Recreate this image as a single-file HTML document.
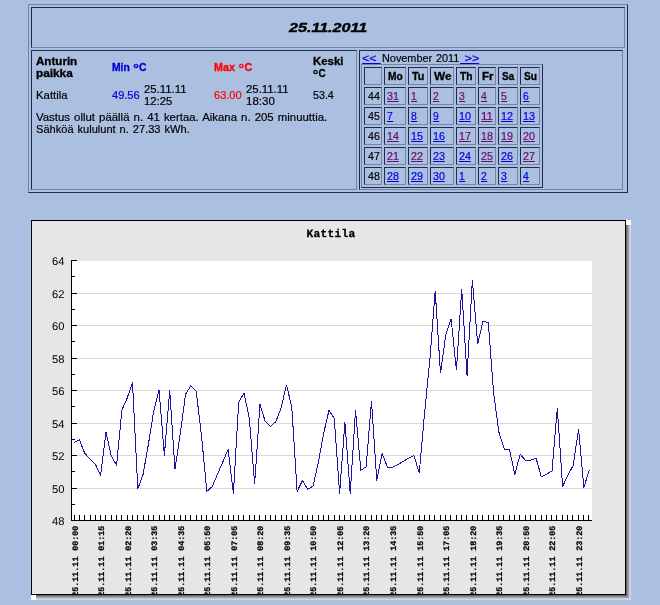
<!DOCTYPE html>
<html><head><meta charset="utf-8"><title>25.11.2011</title>
<style>
html,body{margin:0;padding:0;}
body{width:660px;height:605px;background:#abbfe0;position:relative;overflow:hidden;font-family:"Liberation Sans",sans-serif;font-size:10px;word-spacing:0.8px;color:#000;}
.b{position:absolute;border:1px solid;}
.t{position:absolute;will-change:transform;-webkit-text-stroke:0.18px;white-space:pre;line-height:12px;height:12px;transform-origin:0 0;display:block;}
.bd{font-weight:bold;-webkit-text-stroke:0.3px;}
.bl{color:#0000d8;}
.rd{color:#ff0000;}
.v{color:#6a0a6e;border-bottom:1px solid #6a0a6e;height:10px !important;}
.u{color:#0000e0;border-bottom:1px solid #0000e0;height:10px !important;}
.o{font-style:normal;font-size:8px;vertical-align:3.2px;line-height:1px;margin-right:0.5px;}
.h{-webkit-text-stroke:0.35px;font-weight:bold;font-style:italic;font-size:12.5px;line-height:15px;height:15px;}
svg{position:absolute;left:31px;top:220px;will-change:transform;}
.yl{font-family:"Liberation Sans",sans-serif;font-size:11.2px;fill:#000;}
.xl{font-family:"Liberation Mono",monospace;font-weight:bold;font-size:8.4px;fill:#000;stroke:#000;stroke-width:0.25px;}
.ct{font-family:"Liberation Mono",monospace;font-weight:bold;font-size:11.2px;letter-spacing:0.28px;fill:#000;stroke:#000;stroke-width:0.3px;}
</style></head><body>

<div class="b" style="left:28px;top:4px;width:598px;height:187px;border-color:#76849f #1c2b4e #1c2b4e #76849f;"></div>
<div class="b" style="left:31px;top:7px;width:592px;height:39px;border-color:#1c2b4e #76849f #76849f #1c2b4e;"></div>
<div class="b" style="left:31px;top:50px;width:324px;height:138px;border-color:#1c2b4e #76849f #76849f #1c2b4e;"></div>
<div class="b" style="left:359px;top:50px;width:262px;height:138px;border-color:#1c2b4e #76849f #76849f #1c2b4e;"></div>
<div class="b" style="left:361px;top:64px;width:180px;height:122px;border-color:#76849f #1c2b4e #1c2b4e #76849f;"></div>
<div class="b" style="left:364px;top:67px;width:16px;height:16px;border-color:#1c2b4e #76849f #76849f #1c2b4e;"></div>
<div class="b" style="left:384px;top:67px;width:20px;height:16px;border-color:#1c2b4e #76849f #76849f #1c2b4e;"></div>
<div class="b" style="left:408px;top:67px;width:18px;height:16px;border-color:#1c2b4e #76849f #76849f #1c2b4e;"></div>
<div class="b" style="left:430px;top:67px;width:22px;height:16px;border-color:#1c2b4e #76849f #76849f #1c2b4e;"></div>
<div class="b" style="left:456px;top:67px;width:18px;height:16px;border-color:#1c2b4e #76849f #76849f #1c2b4e;"></div>
<div class="b" style="left:478px;top:67px;width:16px;height:16px;border-color:#1c2b4e #76849f #76849f #1c2b4e;"></div>
<div class="b" style="left:498px;top:67px;width:18px;height:16px;border-color:#1c2b4e #76849f #76849f #1c2b4e;"></div>
<div class="b" style="left:520px;top:67px;width:18px;height:16px;border-color:#1c2b4e #76849f #76849f #1c2b4e;"></div>
<div class="b" style="left:364px;top:87px;width:16px;height:16px;border-color:#1c2b4e #76849f #76849f #1c2b4e;"></div>
<div class="b" style="left:384px;top:87px;width:20px;height:16px;border-color:#1c2b4e #76849f #76849f #1c2b4e;"></div>
<div class="b" style="left:408px;top:87px;width:18px;height:16px;border-color:#1c2b4e #76849f #76849f #1c2b4e;"></div>
<div class="b" style="left:430px;top:87px;width:22px;height:16px;border-color:#1c2b4e #76849f #76849f #1c2b4e;"></div>
<div class="b" style="left:456px;top:87px;width:18px;height:16px;border-color:#1c2b4e #76849f #76849f #1c2b4e;"></div>
<div class="b" style="left:478px;top:87px;width:16px;height:16px;border-color:#1c2b4e #76849f #76849f #1c2b4e;"></div>
<div class="b" style="left:498px;top:87px;width:18px;height:16px;border-color:#1c2b4e #76849f #76849f #1c2b4e;"></div>
<div class="b" style="left:520px;top:87px;width:18px;height:16px;border-color:#1c2b4e #76849f #76849f #1c2b4e;"></div>
<div class="b" style="left:364px;top:107px;width:16px;height:16px;border-color:#1c2b4e #76849f #76849f #1c2b4e;"></div>
<div class="b" style="left:384px;top:107px;width:20px;height:16px;border-color:#1c2b4e #76849f #76849f #1c2b4e;"></div>
<div class="b" style="left:408px;top:107px;width:18px;height:16px;border-color:#1c2b4e #76849f #76849f #1c2b4e;"></div>
<div class="b" style="left:430px;top:107px;width:22px;height:16px;border-color:#1c2b4e #76849f #76849f #1c2b4e;"></div>
<div class="b" style="left:456px;top:107px;width:18px;height:16px;border-color:#1c2b4e #76849f #76849f #1c2b4e;"></div>
<div class="b" style="left:478px;top:107px;width:16px;height:16px;border-color:#1c2b4e #76849f #76849f #1c2b4e;"></div>
<div class="b" style="left:498px;top:107px;width:18px;height:16px;border-color:#1c2b4e #76849f #76849f #1c2b4e;"></div>
<div class="b" style="left:520px;top:107px;width:18px;height:16px;border-color:#1c2b4e #76849f #76849f #1c2b4e;"></div>
<div class="b" style="left:364px;top:127px;width:16px;height:16px;border-color:#1c2b4e #76849f #76849f #1c2b4e;"></div>
<div class="b" style="left:384px;top:127px;width:20px;height:16px;border-color:#1c2b4e #76849f #76849f #1c2b4e;"></div>
<div class="b" style="left:408px;top:127px;width:18px;height:16px;border-color:#1c2b4e #76849f #76849f #1c2b4e;"></div>
<div class="b" style="left:430px;top:127px;width:22px;height:16px;border-color:#1c2b4e #76849f #76849f #1c2b4e;"></div>
<div class="b" style="left:456px;top:127px;width:18px;height:16px;border-color:#1c2b4e #76849f #76849f #1c2b4e;"></div>
<div class="b" style="left:478px;top:127px;width:16px;height:16px;border-color:#1c2b4e #76849f #76849f #1c2b4e;"></div>
<div class="b" style="left:498px;top:127px;width:18px;height:16px;border-color:#1c2b4e #76849f #76849f #1c2b4e;"></div>
<div class="b" style="left:520px;top:127px;width:18px;height:16px;border-color:#1c2b4e #76849f #76849f #1c2b4e;"></div>
<div class="b" style="left:364px;top:147px;width:16px;height:16px;border-color:#1c2b4e #76849f #76849f #1c2b4e;"></div>
<div class="b" style="left:384px;top:147px;width:20px;height:16px;border-color:#1c2b4e #76849f #76849f #1c2b4e;"></div>
<div class="b" style="left:408px;top:147px;width:18px;height:16px;border-color:#1c2b4e #76849f #76849f #1c2b4e;"></div>
<div class="b" style="left:430px;top:147px;width:22px;height:16px;border-color:#1c2b4e #76849f #76849f #1c2b4e;"></div>
<div class="b" style="left:456px;top:147px;width:18px;height:16px;border-color:#1c2b4e #76849f #76849f #1c2b4e;"></div>
<div class="b" style="left:478px;top:147px;width:16px;height:16px;border-color:#1c2b4e #76849f #76849f #1c2b4e;"></div>
<div class="b" style="left:498px;top:147px;width:18px;height:16px;border-color:#1c2b4e #76849f #76849f #1c2b4e;"></div>
<div class="b" style="left:520px;top:147px;width:18px;height:16px;border-color:#1c2b4e #76849f #76849f #1c2b4e;"></div>
<div class="b" style="left:364px;top:167px;width:16px;height:16px;border-color:#1c2b4e #76849f #76849f #1c2b4e;"></div>
<div class="b" style="left:384px;top:167px;width:20px;height:16px;border-color:#1c2b4e #76849f #76849f #1c2b4e;"></div>
<div class="b" style="left:408px;top:167px;width:18px;height:16px;border-color:#1c2b4e #76849f #76849f #1c2b4e;"></div>
<div class="b" style="left:430px;top:167px;width:22px;height:16px;border-color:#1c2b4e #76849f #76849f #1c2b4e;"></div>
<div class="b" style="left:456px;top:167px;width:18px;height:16px;border-color:#1c2b4e #76849f #76849f #1c2b4e;"></div>
<div class="b" style="left:478px;top:167px;width:16px;height:16px;border-color:#1c2b4e #76849f #76849f #1c2b4e;"></div>
<div class="b" style="left:498px;top:167px;width:18px;height:16px;border-color:#1c2b4e #76849f #76849f #1c2b4e;"></div>
<div class="b" style="left:520px;top:167px;width:18px;height:16px;border-color:#1c2b4e #76849f #76849f #1c2b4e;"></div>
<span id="t0" class="t h" style="left:288.8px;top:21px;transform:scaleX(1.2879)">25.11.2011</span>
<span id="t1" class="t bd" style="left:36.3px;top:56px;transform:scaleX(1.1590)">Anturin</span>
<span id="t2" class="t bd" style="left:36.3px;top:68px;transform:scaleX(1.1785)">paikka</span>
<span id="t3" class="t bd bl" style="left:111.7px;top:62px;transform:scaleX(1.0353)">Min <i class=o>o</i>C</span>
<span id="t4" class="t bd rd" style="left:213.7px;top:62px;transform:scaleX(1.0737)">Max <i class=o>o</i>C</span>
<span id="t5" class="t bd" style="left:312.5px;top:56px;transform:scaleX(1.1429)">Keski</span>
<span id="t6" class="t bd" style="left:312.5px;top:68px;transform:scaleX(0.9901)"><i class=o>o</i>C</span>
<span id="t7" class="t " style="left:36.3px;top:90px;transform:scaleX(1.1404)">Kattila</span>
<span id="t8" class="t bl" style="left:111.7px;top:90px;transform:scaleX(1.1026)">49.56</span>
<span id="t9" class="t " style="left:143.7px;top:84px;transform:scaleX(1.1374)">25.11.11</span>
<span id="t10" class="t " style="left:143.7px;top:96px;transform:scaleX(1.1306)">12:25</span>
<span id="t11" class="t rd" style="left:213.7px;top:90px;transform:scaleX(1.1026)">63.00</span>
<span id="t12" class="t " style="left:245.7px;top:84px;transform:scaleX(1.1374)">25.11.11</span>
<span id="t13" class="t " style="left:245.7px;top:96px;transform:scaleX(1.1506)">18:30</span>
<span id="t14" class="t " style="left:312.5px;top:90px;transform:scaleX(1.0684)">53.4</span>
<span id="t15" class="t " style="left:36.3px;top:112px;transform:scaleX(1.1397)">Vastus ollut päällä n. 41 kertaa. Aikana n. 205 minuuttia.</span>
<span id="t16" class="t " style="left:36.3px;top:124px;transform:scaleX(1.1070)">Sähköä kululunt n. 27.33 kWh.</span>
<span id="t17" class="t u" style="left:362.0px;top:53px;transform:scaleX(1.2446)">&lt;&lt; </span>
<span id="t18" class="t " style="left:382.0px;top:53px;transform:scaleX(1.0868)">November 2011</span>
<span id="t19" class="t u" style="left:460.0px;top:53px;transform:scaleX(1.2774)"> &gt;&gt;</span>
<span id="t20" class="t bd" style="left:387.6px;top:71px;transform:scaleX(1.0171)">Mo</span>
<span id="t21" class="t bd" style="left:411.6px;top:71px;transform:scaleX(1.0710)">Tu</span>
<span id="t22" class="t bd" style="left:433.6px;top:71px;transform:scaleX(1.1802)">We</span>
<span id="t23" class="t bd" style="left:459.6px;top:71px;transform:scaleX(1.0230)">Th</span>
<span id="t24" class="t bd" style="left:481.6px;top:71px;transform:scaleX(1.1500)">Fr</span>
<span id="t25" class="t bd" style="left:501.6px;top:71px;transform:scaleX(0.9890)">Sa</span>
<span id="t26" class="t bd" style="left:523.6px;top:71px;transform:scaleX(1.0171)">Su</span>
<span id="t27" class="t " style="left:367.6px;top:91px;transform:scaleX(1.0607)">44</span>
<span id="t28" class="t v" style="left:387.2px;top:91px;transform:scaleX(1.0787)">31</span>
<span id="t29" class="t v" style="left:411.2px;top:91px;transform:scaleX(1.0427)">1</span>
<span id="t30" class="t v" style="left:433.2px;top:91px;transform:scaleX(1.0427)">2</span>
<span id="t31" class="t v" style="left:459.2px;top:91px;transform:scaleX(1.0427)">3</span>
<span id="t32" class="t v" style="left:481.2px;top:91px;transform:scaleX(1.0427)">4</span>
<span id="t33" class="t v" style="left:501.2px;top:91px;transform:scaleX(1.0427)">5</span>
<span id="t34" class="t u" style="left:523.2px;top:91px;transform:scaleX(1.0427)">6</span>
<span id="t35" class="t " style="left:367.6px;top:111px;transform:scaleX(1.0607)">45</span>
<span id="t36" class="t u" style="left:387.2px;top:111px;transform:scaleX(1.0427)">7</span>
<span id="t37" class="t u" style="left:411.2px;top:111px;transform:scaleX(1.0427)">8</span>
<span id="t38" class="t u" style="left:433.2px;top:111px;transform:scaleX(1.0427)">9</span>
<span id="t39" class="t u" style="left:459.2px;top:111px;transform:scaleX(1.0787)">10</span>
<span id="t40" class="t v" style="left:481.2px;top:111px;transform:scaleX(1.1549)">11</span>
<span id="t41" class="t u" style="left:501.2px;top:111px;transform:scaleX(1.0787)">12</span>
<span id="t42" class="t u" style="left:523.2px;top:111px;transform:scaleX(1.0787)">13</span>
<span id="t43" class="t " style="left:367.6px;top:131px;transform:scaleX(1.0607)">46</span>
<span id="t44" class="t v" style="left:387.2px;top:131px;transform:scaleX(1.0787)">14</span>
<span id="t45" class="t u" style="left:411.2px;top:131px;transform:scaleX(1.0787)">15</span>
<span id="t46" class="t u" style="left:433.2px;top:131px;transform:scaleX(1.0787)">16</span>
<span id="t47" class="t v" style="left:459.2px;top:131px;transform:scaleX(1.0787)">17</span>
<span id="t48" class="t v" style="left:481.2px;top:131px;transform:scaleX(1.0787)">18</span>
<span id="t49" class="t v" style="left:501.2px;top:131px;transform:scaleX(1.0787)">19</span>
<span id="t50" class="t v" style="left:523.2px;top:131px;transform:scaleX(1.0787)">20</span>
<span id="t51" class="t " style="left:367.6px;top:151px;transform:scaleX(1.0607)">47</span>
<span id="t52" class="t v" style="left:387.2px;top:151px;transform:scaleX(1.0787)">21</span>
<span id="t53" class="t v" style="left:411.2px;top:151px;transform:scaleX(1.0787)">22</span>
<span id="t54" class="t u" style="left:433.2px;top:151px;transform:scaleX(1.0787)">23</span>
<span id="t55" class="t u" style="left:459.2px;top:151px;transform:scaleX(1.0787)">24</span>
<span id="t56" class="t v" style="left:481.2px;top:151px;transform:scaleX(1.0787)">25</span>
<span id="t57" class="t u" style="left:501.2px;top:151px;transform:scaleX(1.0787)">26</span>
<span id="t58" class="t v" style="left:523.2px;top:151px;transform:scaleX(1.0787)">27</span>
<span id="t59" class="t " style="left:367.6px;top:171px;transform:scaleX(1.0607)">48</span>
<span id="t60" class="t u" style="left:387.2px;top:171px;transform:scaleX(1.0787)">28</span>
<span id="t61" class="t u" style="left:411.2px;top:171px;transform:scaleX(1.0787)">29</span>
<span id="t62" class="t u" style="left:433.2px;top:171px;transform:scaleX(1.0787)">30</span>
<span id="t63" class="t u" style="left:459.2px;top:171px;transform:scaleX(1.0427)">1</span>
<span id="t64" class="t u" style="left:481.2px;top:171px;transform:scaleX(1.0427)">2</span>
<span id="t65" class="t u" style="left:501.2px;top:171px;transform:scaleX(1.0427)">3</span>
<span id="t66" class="t u" style="left:523.2px;top:171px;transform:scaleX(1.0427)">4</span>
<svg width="600" height="380" viewBox="0 0 600 380" shape-rendering="crispEdges">
<rect x="0" y="0" width="600" height="380" fill="#fff"/>
<rect x="595" y="5" width="1" height="371" fill="#646464"/>
<rect x="5" y="375" width="591" height="1" fill="#646464"/>
<rect x="596" y="5" width="1" height="372" fill="#8a8a8a"/>
<rect x="5" y="376" width="592" height="1" fill="#8a8a8a"/>
<rect x="597" y="5" width="1" height="373" fill="#a8a8ac"/>
<rect x="5" y="377" width="593" height="1" fill="#a8a8ac"/>
<rect x="598" y="5" width="1" height="374" fill="#c4c8d4"/>
<rect x="5" y="378" width="594" height="1" fill="#c4c8d4"/>
<rect x="599" y="5" width="1" height="375" fill="#d2daea"/>
<rect x="5" y="379" width="595" height="1" fill="#d2daea"/>
<rect x="0.5" y="0.5" width="594" height="374" fill="#e6e6e6" stroke="#000" stroke-width="1"/>
<rect x="41" y="41" width="520" height="259" fill="#fff"/>
<rect x="41" y="268" width="520" height="1" fill="#d9d9d9"/>
<rect x="41" y="235" width="520" height="1" fill="#d9d9d9"/>
<rect x="41" y="203" width="520" height="1" fill="#d9d9d9"/>
<rect x="41" y="170" width="520" height="1" fill="#d9d9d9"/>
<rect x="41" y="138" width="520" height="1" fill="#d9d9d9"/>
<rect x="41" y="105" width="520" height="1" fill="#d9d9d9"/>
<rect x="41" y="73" width="520" height="1" fill="#d9d9d9"/>
<polyline points="43.10,222.66 48.41,219.74 53.72,233.39 59.03,238.75 64.34,244.11 69.65,255.32 74.96,212.26 80.27,235.99 85.58,245.25 90.89,190.00 96.20,177.98 101.51,162.38 106.82,268.81 112.13,254.19 117.44,224.12 122.75,190.81 128.06,169.85 133.37,235.50 138.68,170.50 143.99,249.31 149.30,213.40 154.61,174.07 159.92,165.63 165.23,171.48 170.54,216.00 175.85,271.41 181.16,266.70 186.47,254.19 191.78,242.00 197.09,229.49 202.40,273.53 207.71,182.20 213.02,173.26 218.33,198.29 223.64,264.26 228.95,184.31 234.26,201.54 239.57,206.25 244.88,201.54 250.19,187.56 255.50,164.65 260.81,187.56 266.12,271.41 271.43,260.69 276.74,269.30 282.05,266.05 287.36,242.49 292.67,213.40 297.98,190.32 303.29,198.29 308.60,273.53 313.91,202.19 319.22,273.53 324.53,190.32 329.84,250.29 335.15,246.71 340.46,181.22 345.77,260.69 351.08,233.39 356.39,247.04 361.70,247.04 367.01,244.60 372.32,241.35 377.63,238.10 382.94,235.34 388.25,253.21 393.56,193.25 398.87,139.62 404.18,70.56 409.49,153.44 414.80,114.76 420.11,98.67 425.42,150.35 430.73,69.10 436.04,155.71 441.35,60.00 446.66,124.02 451.97,101.28 457.28,102.58 462.59,172.61 467.90,212.26 473.21,229.00 478.52,229.49 483.83,254.68 489.14,234.20 494.45,240.21 499.76,240.21 505.07,238.10 510.38,256.95 515.69,254.02 521.00,250.94 526.31,188.21 531.62,266.54 536.93,255.16 542.24,245.25 547.55,209.18 552.86,267.51 558.17,250.29" fill="none" stroke="#1a14a0" stroke-width="1" stroke-linejoin="miter"/>
<rect x="40" y="40" width="1" height="261" fill="#000"/>
<rect x="40" y="300" width="521" height="1" fill="#000"/>
<rect x="40" y="300" width="6" height="1" fill="#000"/>
<rect x="40" y="284" width="4" height="1" fill="#000"/>
<rect x="40" y="268" width="6" height="1" fill="#000"/>
<rect x="40" y="251" width="4" height="1" fill="#000"/>
<rect x="40" y="235" width="6" height="1" fill="#000"/>
<rect x="40" y="219" width="4" height="1" fill="#000"/>
<rect x="40" y="203" width="6" height="1" fill="#000"/>
<rect x="40" y="186" width="4" height="1" fill="#000"/>
<rect x="40" y="170" width="6" height="1" fill="#000"/>
<rect x="40" y="154" width="4" height="1" fill="#000"/>
<rect x="40" y="138" width="6" height="1" fill="#000"/>
<rect x="40" y="121" width="4" height="1" fill="#000"/>
<rect x="40" y="105" width="6" height="1" fill="#000"/>
<rect x="40" y="89" width="4" height="1" fill="#000"/>
<rect x="40" y="73" width="6" height="1" fill="#000"/>
<rect x="40" y="56" width="4" height="1" fill="#000"/>
<rect x="40" y="40" width="6" height="1" fill="#000"/>
<rect x="43" y="295" width="1" height="6" fill="#000"/>
<rect x="48" y="295" width="1" height="6" fill="#000"/>
<rect x="53" y="295" width="1" height="6" fill="#000"/>
<rect x="59" y="295" width="1" height="6" fill="#000"/>
<rect x="64" y="295" width="1" height="6" fill="#000"/>
<rect x="69" y="295" width="1" height="6" fill="#000"/>
<rect x="74" y="295" width="1" height="6" fill="#000"/>
<rect x="80" y="295" width="1" height="6" fill="#000"/>
<rect x="85" y="295" width="1" height="6" fill="#000"/>
<rect x="90" y="295" width="1" height="6" fill="#000"/>
<rect x="96" y="295" width="1" height="6" fill="#000"/>
<rect x="101" y="295" width="1" height="6" fill="#000"/>
<rect x="106" y="295" width="1" height="6" fill="#000"/>
<rect x="112" y="295" width="1" height="6" fill="#000"/>
<rect x="117" y="295" width="1" height="6" fill="#000"/>
<rect x="122" y="295" width="1" height="6" fill="#000"/>
<rect x="128" y="295" width="1" height="6" fill="#000"/>
<rect x="133" y="295" width="1" height="6" fill="#000"/>
<rect x="138" y="295" width="1" height="6" fill="#000"/>
<rect x="143" y="295" width="1" height="6" fill="#000"/>
<rect x="149" y="295" width="1" height="6" fill="#000"/>
<rect x="154" y="295" width="1" height="6" fill="#000"/>
<rect x="159" y="295" width="1" height="6" fill="#000"/>
<rect x="165" y="295" width="1" height="6" fill="#000"/>
<rect x="170" y="295" width="1" height="6" fill="#000"/>
<rect x="175" y="295" width="1" height="6" fill="#000"/>
<rect x="181" y="295" width="1" height="6" fill="#000"/>
<rect x="186" y="295" width="1" height="6" fill="#000"/>
<rect x="191" y="295" width="1" height="6" fill="#000"/>
<rect x="197" y="295" width="1" height="6" fill="#000"/>
<rect x="202" y="295" width="1" height="6" fill="#000"/>
<rect x="207" y="295" width="1" height="6" fill="#000"/>
<rect x="212" y="295" width="1" height="6" fill="#000"/>
<rect x="218" y="295" width="1" height="6" fill="#000"/>
<rect x="223" y="295" width="1" height="6" fill="#000"/>
<rect x="228" y="295" width="1" height="6" fill="#000"/>
<rect x="234" y="295" width="1" height="6" fill="#000"/>
<rect x="239" y="295" width="1" height="6" fill="#000"/>
<rect x="244" y="295" width="1" height="6" fill="#000"/>
<rect x="250" y="295" width="1" height="6" fill="#000"/>
<rect x="255" y="295" width="1" height="6" fill="#000"/>
<rect x="260" y="295" width="1" height="6" fill="#000"/>
<rect x="266" y="295" width="1" height="6" fill="#000"/>
<rect x="271" y="295" width="1" height="6" fill="#000"/>
<rect x="276" y="295" width="1" height="6" fill="#000"/>
<rect x="281" y="295" width="1" height="6" fill="#000"/>
<rect x="287" y="295" width="1" height="6" fill="#000"/>
<rect x="292" y="295" width="1" height="6" fill="#000"/>
<rect x="297" y="295" width="1" height="6" fill="#000"/>
<rect x="303" y="295" width="1" height="6" fill="#000"/>
<rect x="308" y="295" width="1" height="6" fill="#000"/>
<rect x="313" y="295" width="1" height="6" fill="#000"/>
<rect x="319" y="295" width="1" height="6" fill="#000"/>
<rect x="324" y="295" width="1" height="6" fill="#000"/>
<rect x="329" y="295" width="1" height="6" fill="#000"/>
<rect x="334" y="295" width="1" height="6" fill="#000"/>
<rect x="340" y="295" width="1" height="6" fill="#000"/>
<rect x="345" y="295" width="1" height="6" fill="#000"/>
<rect x="350" y="295" width="1" height="6" fill="#000"/>
<rect x="356" y="295" width="1" height="6" fill="#000"/>
<rect x="361" y="295" width="1" height="6" fill="#000"/>
<rect x="366" y="295" width="1" height="6" fill="#000"/>
<rect x="372" y="295" width="1" height="6" fill="#000"/>
<rect x="377" y="295" width="1" height="6" fill="#000"/>
<rect x="382" y="295" width="1" height="6" fill="#000"/>
<rect x="388" y="295" width="1" height="6" fill="#000"/>
<rect x="393" y="295" width="1" height="6" fill="#000"/>
<rect x="398" y="295" width="1" height="6" fill="#000"/>
<rect x="403" y="295" width="1" height="6" fill="#000"/>
<rect x="409" y="295" width="1" height="6" fill="#000"/>
<rect x="414" y="295" width="1" height="6" fill="#000"/>
<rect x="419" y="295" width="1" height="6" fill="#000"/>
<rect x="425" y="295" width="1" height="6" fill="#000"/>
<rect x="430" y="295" width="1" height="6" fill="#000"/>
<rect x="435" y="295" width="1" height="6" fill="#000"/>
<rect x="441" y="295" width="1" height="6" fill="#000"/>
<rect x="446" y="295" width="1" height="6" fill="#000"/>
<rect x="451" y="295" width="1" height="6" fill="#000"/>
<rect x="457" y="295" width="1" height="6" fill="#000"/>
<rect x="462" y="295" width="1" height="6" fill="#000"/>
<rect x="467" y="295" width="1" height="6" fill="#000"/>
<rect x="472" y="295" width="1" height="6" fill="#000"/>
<rect x="478" y="295" width="1" height="6" fill="#000"/>
<rect x="483" y="295" width="1" height="6" fill="#000"/>
<rect x="488" y="295" width="1" height="6" fill="#000"/>
<rect x="494" y="295" width="1" height="6" fill="#000"/>
<rect x="499" y="295" width="1" height="6" fill="#000"/>
<rect x="504" y="295" width="1" height="6" fill="#000"/>
<rect x="510" y="295" width="1" height="6" fill="#000"/>
<rect x="515" y="295" width="1" height="6" fill="#000"/>
<rect x="520" y="295" width="1" height="6" fill="#000"/>
<rect x="525" y="295" width="1" height="6" fill="#000"/>
<rect x="531" y="295" width="1" height="6" fill="#000"/>
<rect x="536" y="295" width="1" height="6" fill="#000"/>
<rect x="541" y="295" width="1" height="6" fill="#000"/>
<rect x="547" y="295" width="1" height="6" fill="#000"/>
<rect x="552" y="295" width="1" height="6" fill="#000"/>
<rect x="557" y="295" width="1" height="6" fill="#000"/>
<g shape-rendering="auto" text-rendering="geometricPrecision">
<text class="yl" x="33.400000000000006" y="304.5" text-anchor="end">48</text>
<text class="yl" x="33.400000000000006" y="272.5" text-anchor="end">50</text>
<text class="yl" x="33.400000000000006" y="239.5" text-anchor="end">52</text>
<text class="yl" x="33.400000000000006" y="207.5" text-anchor="end">54</text>
<text class="yl" x="33.400000000000006" y="174.5" text-anchor="end">56</text>
<text class="yl" x="33.400000000000006" y="142.5" text-anchor="end">58</text>
<text class="yl" x="33.400000000000006" y="109.5" text-anchor="end">60</text>
<text class="yl" x="33.400000000000006" y="77.5" text-anchor="end">62</text>
<text class="yl" x="33.400000000000006" y="44.5" text-anchor="end">64</text>
<text class="ct" x="300" y="17.19999999999999" text-anchor="middle">Kattila</text>
<text class="xl" transform="translate(46.9,376.79999999999995) rotate(-90)">25.11.11 00:00</text>
<text class="xl" transform="translate(72.9,376.79999999999995) rotate(-90)">25.11.11 01:15</text>
<text class="xl" transform="translate(99.9,376.79999999999995) rotate(-90)">25.11.11 02:20</text>
<text class="xl" transform="translate(125.9,376.79999999999995) rotate(-90)">25.11.11 03:35</text>
<text class="xl" transform="translate(152.9,376.79999999999995) rotate(-90)">25.11.11 04:35</text>
<text class="xl" transform="translate(178.9,376.79999999999995) rotate(-90)">25.11.11 05:50</text>
<text class="xl" transform="translate(205.9,376.79999999999995) rotate(-90)">25.11.11 07:05</text>
<text class="xl" transform="translate(231.9,376.79999999999995) rotate(-90)">25.11.11 08:20</text>
<text class="xl" transform="translate(258.9,376.79999999999995) rotate(-90)">25.11.11 09:35</text>
<text class="xl" transform="translate(284.9,376.79999999999995) rotate(-90)">25.11.11 10:50</text>
<text class="xl" transform="translate(311.9,376.79999999999995) rotate(-90)">25.11.11 12:05</text>
<text class="xl" transform="translate(337.9,376.79999999999995) rotate(-90)">25.11.11 13:20</text>
<text class="xl" transform="translate(364.9,376.79999999999995) rotate(-90)">25.11.11 14:35</text>
<text class="xl" transform="translate(391.9,376.79999999999995) rotate(-90)">25.11.11 15:50</text>
<text class="xl" transform="translate(417.9,376.79999999999995) rotate(-90)">25.11.11 17:05</text>
<text class="xl" transform="translate(444.9,376.79999999999995) rotate(-90)">25.11.11 18:20</text>
<text class="xl" transform="translate(470.9,376.79999999999995) rotate(-90)">25.11.11 19:35</text>
<text class="xl" transform="translate(497.9,376.79999999999995) rotate(-90)">25.11.11 20:50</text>
<text class="xl" transform="translate(523.9,376.79999999999995) rotate(-90)">25.11.11 22:05</text>
<text class="xl" transform="translate(550.9,376.79999999999995) rotate(-90)">25.11.11 23:20</text>
</g>
<rect x="0" y="374" width="595" height="1" fill="#000"/>
<rect x="5" y="375" width="591" height="1" fill="#646464"/>
<rect x="5" y="376" width="592" height="1" fill="#8a8a8a"/>
<rect x="5" y="377" width="593" height="1" fill="#a8a8ac"/>
<rect x="5" y="378" width="594" height="1" fill="#c4c8d4"/>
<rect x="5" y="379" width="595" height="1" fill="#d2daea"/>
</svg>
</body></html>
